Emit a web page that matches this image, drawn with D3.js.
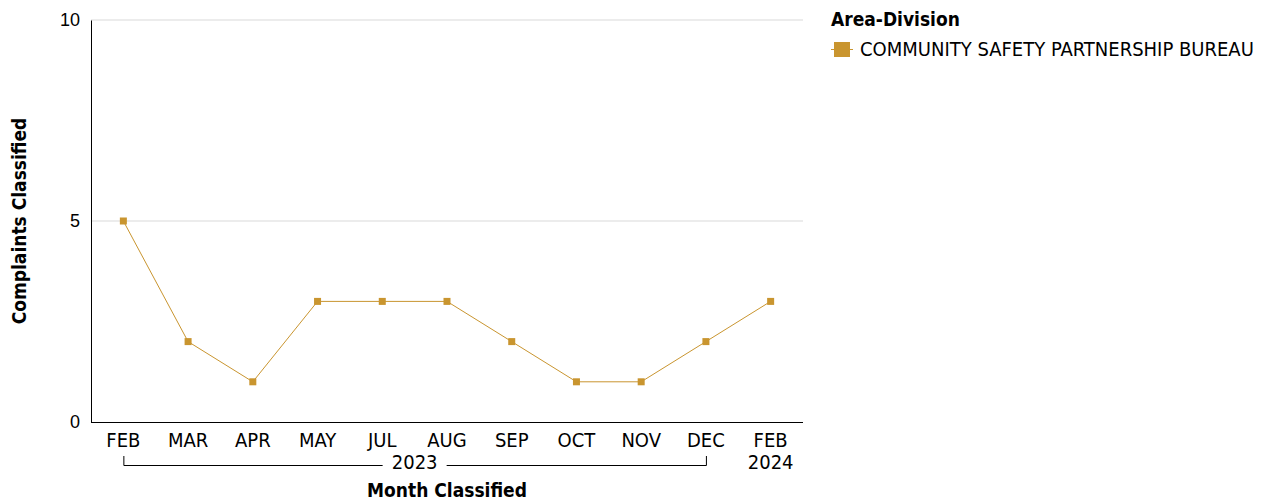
<!DOCTYPE html>
<html><head><meta charset="utf-8">
<script src="https://cdn.jsdelivr.net/npm/d3@7"></script>
<style>body{margin:0;background:#fff;} text{font-family:"DejaVu Sans Condensed","DejaVu Sans",sans-serif;}</style>
</head><body>
<svg id="c" width="1265" height="502"></svg>
<script>
const months = ["FEB","MAR","APR","MAY","JUL","AUG","SEP","OCT","NOV","DEC","FEB"];
const years = ["2023","2023","2023","2023","2023","2023","2023","2023","2023","2023","2024"];
const values = [5,2,1,3,3,3,2,1,1,2,3];
const yTicks = [0,5,10];
const seriesName = "COMMUNITY SAFETY PARTNERSHIP BUREAU";
const color = "#C9952F";

const svg = d3.select("#c");
const L=91,R=803,T=20,B=422;
const FS=20, FB=19;
const idx = months.map((m,i)=>i);
const x = d3.scalePoint().domain(idx).range([L,R]).padding(0.5);
const y = d3.scaleLinear().domain([0,10]).range([B,T]);

// grid
svg.append("g").selectAll("line").data(yTicks.filter(d=>d>0)).join("line")
  .attr("x1",L).attr("x2",R).attr("y1",d=>y(d)).attr("y2",d=>y(d))
  .attr("stroke","#d9d9d9").attr("stroke-width",1);
// axes
const ya = svg.append("g").attr("transform",`translate(${L},0)`)
  .call(d3.axisLeft(y).tickValues(yTicks).tickSize(0).tickPadding(11));
ya.select(".domain").attr("stroke","#000");
ya.selectAll("text").attr("font-size",18).attr("fill","#000").style("font-family","Liberation Sans, Arial, sans-serif");
svg.append("line").attr("x1",L).attr("x2",R).attr("y1",B+0.5).attr("y2",B+0.5).attr("stroke","#000");

idx.forEach(i=>{
  svg.append("text").attr("x",x(i)).attr("y",447).attr("text-anchor","middle").attr("font-size",FS).text(months[i]);
});

// year groups
const groups = d3.groups(idx, i=>years[i]);
const by = 465;
groups.forEach(([yr, ids])=>{
  const x0 = x(ids[0]), x1 = x(ids[ids.length-1]);
  const mid=(x0+x1)/2;
  if (ids.length>1){
    const tw=64;
    const g=svg.append("g").attr("stroke","#000").attr("fill","none");
    g.append("path").attr("d",`M${x0+0.5},${by-9}V${by+0.5}H${mid-tw/2}`);
    g.append("path").attr("d",`M${mid+tw/2},${by+0.5}H${x1+0.5}V${by-9}`);
    svg.append("text").attr("x",mid).attr("y",469).attr("text-anchor","middle").attr("font-size",FS).text(yr);
  } else {
    svg.append("text").attr("x",x0).attr("y",469).attr("text-anchor","middle").attr("font-size",FS).text(yr);
  }
});

// titles
svg.append("text").attr("x",447).attr("y",497).attr("text-anchor","middle")
  .attr("font-size",FB).attr("font-weight","bold").text("Month Classified");
svg.append("text").attr("transform",`translate(26,${(T+B)/2}) rotate(-90)`).attr("text-anchor","middle")
  .attr("font-size",FB).attr("font-weight","bold").text("Complaints Classified");

// line
svg.append("path").datum(idx).attr("fill","none").attr("stroke",color).attr("stroke-width",1)
  .attr("d",d3.line().x(i=>x(i)).y(i=>y(values[i])));
svg.append("g").selectAll("rect").data(idx).join("rect")
  .attr("x",i=>x(i)-3.5).attr("y",i=>y(values[i])-3.5).attr("width",7).attr("height",7).attr("fill",color);

// legend
svg.append("text").attr("x",831).attr("y",26).attr("font-size",FB).attr("font-weight","bold").text("Area-Division");
svg.append("line").attr("x1",831).attr("x2",853).attr("y1",49.5).attr("y2",49.5).attr("stroke",color);
svg.append("rect").attr("x",834).attr("y",42).attr("width",16).attr("height",15).attr("fill",color);
svg.append("text").attr("x",860).attr("y",56).attr("font-size",FS).text(seriesName);
</script>
</body></html>
